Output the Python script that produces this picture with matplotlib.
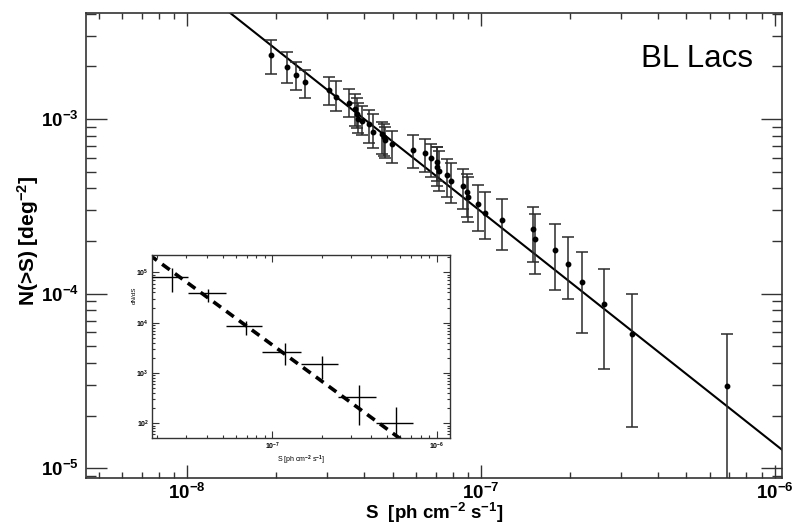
import numpy as np
import matplotlib
matplotlib.use("Agg")
import matplotlib.pyplot as plt
from matplotlib.ticker import LogLocator, NullFormatter, FuncFormatter

plt.rcParams.update({
    "font.family": ["Liberation Sans", "DejaVu Sans"],
    "mathtext.fontset": "custom",
    "mathtext.rm": "Liberation Sans:bold",
    "mathtext.it": "Liberation Sans:bold",
    "mathtext.bf": "Liberation Sans:bold",
    "mathtext.sf": "Liberation Sans:bold",
    "mathtext.default": "bf",
})

# Cumulative source counts N(>S) with 1-sigma bounds
s_flux = [1.93e-8, 2.18e-8, 2.34e-8, 2.51e-8, 3.05e-8, 3.22e-8, 3.56e-8, 3.74e-8,
          3.78e-8, 3.82e-8, 3.93e-8, 4.17e-8, 4.28e-8, 4.62e-8, 4.68e-8, 4.72e-8,
          4.97e-8, 5.86e-8, 6.45e-8, 6.76e-8, 7.07e-8, 7.10e-8, 7.18e-8, 7.65e-8,
          7.89e-8, 8.65e-8, 8.98e-8, 9.05e-8, 9.73e-8, 1.032e-7, 1.176e-7, 1.507e-7,
          1.530e-7, 1.792e-7, 1.981e-7, 2.200e-7, 2.620e-7, 3.255e-7, 6.891e-7]
n_cum = [2.32e-3, 1.99e-3, 1.78e-3, 1.62e-3, 1.47e-3, 1.34e-3, 1.23e-3, 1.14e-3,
         1.07e-3, 1.00e-3, 9.74e-4, 9.40e-4, 8.46e-4, 8.21e-4, 7.89e-4, 7.55e-4,
         7.17e-4, 6.65e-4, 6.37e-4, 6.01e-4, 5.66e-4, 5.34e-4, 5.05e-4, 4.77e-4,
         4.42e-4, 4.14e-4, 3.83e-4, 3.55e-4, 3.25e-4, 2.91e-4, 2.64e-4, 2.34e-4,
         2.06e-4, 1.77e-4, 1.47e-4, 1.16e-4, 8.73e-5, 5.88e-5, 2.94e-5]
n_hi = [2.82e-3, 2.41e-3, 2.12e-3, 1.90e-3, 1.73e-3, 1.64e-3, 1.48e-3, 1.39e-3,
        1.32e-3, 1.23e-3, 1.19e-3, 1.13e-3, 1.07e-3, 9.65e-4, 9.36e-4, 9.00e-4,
        8.54e-4, 8.07e-4, 7.72e-4, 7.23e-4, 6.95e-4, 6.92e-4, 6.56e-4, 5.93e-4,
        5.58e-4, 5.16e-4, 4.87e-4, 4.66e-4, 4.20e-4, 3.84e-4, 3.48e-4, 3.14e-4,
        2.85e-4, 2.49e-4, 2.12e-4, 1.74e-4, 1.38e-4, 9.96e-5, 5.83e-5]
n_lo = [1.82e-3, 1.61e-3, 1.46e-3, 1.32e-3, 1.21e-3, 1.11e-3, 1.02e-3, 9.12e-4,
        8.88e-4, 8.32e-4, 8.10e-4, 7.32e-4, 6.83e-4, 6.34e-4, 6.15e-4, 6.01e-4,
        5.63e-4, 5.27e-4, 5.00e-4, 4.66e-4, 4.42e-4, 4.14e-4, 3.88e-4, 3.55e-4,
        3.32e-4, 3.05e-4, 2.73e-4, 2.56e-4, 2.29e-4, 2.04e-4, 1.78e-4, 1.51e-4,
        1.30e-4, 1.05e-4, 9.33e-5, 5.91e-5, 3.71e-5, 1.72e-5, 0.0]

# Power-law fit to N(>S)
fit_pivot = 1e-7
fit_norm = 2.95e-4
fit_index = 1.333

# Differential counts dN/dS (inset)
ds_center = [2.45e-8, 4.09e-8, 6.98e-8, 1.19e-7, 2.01e-7, 3.35e-7, 5.66e-7]
ds_left = [1.87e-8, 3.09e-8, 5.21e-8, 8.73e-8, 1.49e-7, 2.51e-7, 4.26e-7]
ds_right = [3.09e-8, 5.21e-8, 8.73e-8, 1.49e-7, 2.51e-7, 4.26e-7, 7.16e-7]
dnds = [8.0e4, 3.84e4, 8.6e3, 2.65e3, 1.51e3, 338.0, 100.0]
dnds_hi = [1.21e5, 4.68e4, 1.10e4, 3.89e3, 2.18e3, 577.0, 208.0]
dnds_lo = [4.13e4, 2.61e4, 5.69e3, 1.44e3, 750.0, 94.0, 0.0]
diff_norm = 3.63e3
diff_index = 2.4


def pow10_label(v, pos):
    e = int(round(np.log10(v)))
    return r"$\mathbf{10^{%d}}$" % e


def style_log_axis(a, major_len_x, minor_len_x, major_len_y, minor_len_y, size, pad, width):
    for axis in (a.xaxis, a.yaxis):
        axis.set_major_locator(LogLocator(base=10, numticks=12))
        axis.set_minor_locator(LogLocator(base=10, subs=np.arange(2, 10), numticks=24))
        axis.set_major_formatter(FuncFormatter(pow10_label))
        axis.set_minor_formatter(NullFormatter())
    a.tick_params(which="both", direction="in", top=True, right=True, color="#333333", width=width)
    a.tick_params(axis="x", which="major", length=major_len_x, labelsize=size, pad=pad)
    a.tick_params(axis="x", which="minor", length=minor_len_x)
    a.tick_params(axis="y", which="major", length=major_len_y, labelsize=size, pad=pad)
    a.tick_params(axis="y", which="minor", length=minor_len_y)


fig = plt.figure(figsize=(7.95, 5.27), dpi=100)
ax = fig.add_axes([0.1082, 0.093, 0.8755, 0.8824])
ax.set_xscale("log")
ax.set_yscale("log")
ax.set_xlim(4.53e-9, 1.057e-6)
ax.set_ylim(8.77e-6, 4.05e-3)

s_line = np.logspace(np.log10(4.0e-9), np.log10(1.2e-6), 300)
ax.plot(s_line, fit_norm * (s_line / fit_pivot) ** (-fit_index), color="black", lw=1.5, zorder=2)

s = np.array(s_flux)
n = np.array(n_cum)
lo = np.maximum(np.array(n_lo), 1e-9)
hi = np.array(n_hi)
ax.errorbar(s, n, yerr=[n - lo, hi - n], fmt="o", ms=3.2, color="black",
            ecolor="#2b2b2b", elinewidth=1.1, capsize=4.5, capthick=1.1, zorder=3)

style_log_axis(ax, 9.5, 4.5, 15, 7.5, 13.5, 5, 1.0)
ax.tick_params(axis="x", which="major", pad=3.5)
for sp in ax.spines.values():
    sp.set_color("#333333")
    sp.set_linewidth(1.2)

ax.set_xlabel(r"S  [ph cm$^{-2}$ s$^{-1}$]", fontsize=13.5, fontweight="bold", va="center")
ax.xaxis.set_label_coords(0.5, -0.076)
ax.set_ylabel(r"N(>S) [deg$^{-2}$]", fontsize=15, fontweight="bold", va="center")
ax.yaxis.set_label_coords(-0.084, 0.51)

ax.text(0.797, 0.884, "BL Lacs", transform=ax.transAxes, fontsize=22.5, ha="left", va="baseline")

# Inset: differential counts
ins = fig.add_axes([0.1908, 0.1683, 0.3752, 0.3478])
ins.set_xscale("log")
ins.set_yscale("log")
ins.set_xlim(1.855e-8, 1.2e-6)
ins.set_ylim(50.4, 2.22e5)

sd = np.logspace(np.log10(1.5e-8), np.log10(1.3e-6), 200)
ins.plot(sd, diff_norm * (sd / fit_pivot) ** (-diff_index), color="black", lw=2.6,
         dashes=(2.6, 1.8), zorder=2)

xc = np.array(ds_center)
yd = np.array(dnds)
ins.errorbar(xc, yd,
             xerr=[xc - np.array(ds_left), np.array(ds_right) - xc],
             yerr=[yd - np.maximum(np.array(dnds_lo), 1e-3), np.array(dnds_hi) - yd],
             fmt="none", ecolor="black", elinewidth=1.0, capsize=0, zorder=3)

style_log_axis(ins, 5, 2.5, 5, 2.5, 5, 2, 0.8)
for sp in ins.spines.values():
    sp.set_color("#333333")
    sp.set_linewidth(1.0)
ins.set_xlabel(r"S [ph cm$^{-2}$ s$^{-1}$]", fontsize=5, labelpad=1)
ins.set_ylabel("dN/dS", fontsize=4.5, labelpad=2)
ins.yaxis.set_label_coords(-0.05, 0.78)

fig.savefig("out.png", dpi=100)
